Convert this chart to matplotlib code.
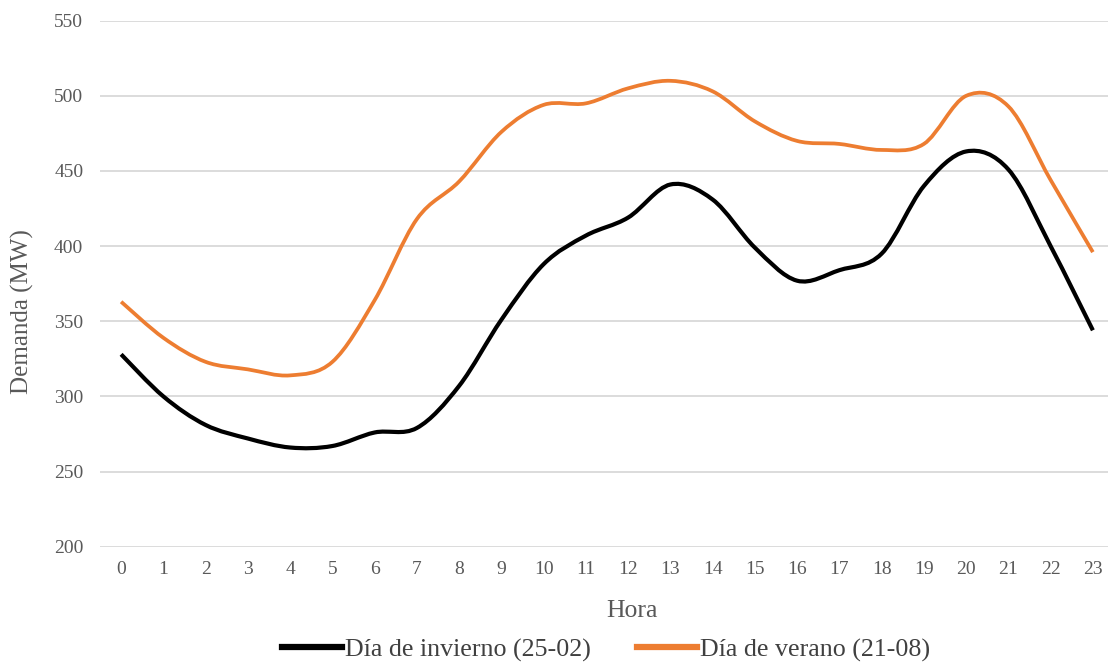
import numpy as np
import matplotlib.pyplot as plt
from matplotlib.path import Path
from matplotlib.patches import PathPatch
from matplotlib.lines import Line2D

# demanda horaria (MW)
horas = list(range(24))
invierno = [328, 300, 281, 272, 266, 267, 276, 279, 307, 351, 388, 407, 419, 441,
            431, 399, 377, 384, 395, 440, 463, 451, 400, 344]
verano = [363, 339, 323, 318, 314, 323, 364, 418, 443, 476, 494, 495, 505, 510,
          503, 483, 470, 468, 464, 468, 500, 493, 444, 396]

etiqueta_invierno = 'Día de invierno (25-02)'
etiqueta_verano = 'Día de verano (21-08)'

NARANJA = '#ED7D31'
GRIS = '#595959'

plt.rcParams['font.family'] = ['Liberation Serif', 'DejaVu Serif']


def smoothPath(x, y):
    # curva suave tipo Excel: Bezier cubica con tangentes Catmull-Rom (tension 1/6)
    pts = np.column_stack([x, y]).astype(float)
    ext = np.vstack([pts[0], pts, pts[-1]])
    verts = [pts[0]]
    codes = [Path.MOVETO]
    for i in range(1, len(ext) - 2):
        p0, p1, p2, p3 = ext[i - 1], ext[i], ext[i + 1], ext[i + 2]
        c1 = p1 + (p2 - p0) / 6.0
        c2 = p2 - (p3 - p1) / 6.0
        verts += [c1, c2, p2]
        codes += [Path.CURVE4] * 3
    return Path(verts, codes)


fig = plt.figure(figsize=(11.08, 6.63), dpi=100)
ax = fig.add_axes([100 / 1108, 1 - 546.7 / 663, 1014 / 1108, 526 / 663])

ax.add_patch(PathPatch(smoothPath(horas, invierno), fill=False, edgecolor='black',
                       lw=3.0, capstyle='butt', zorder=3))
ax.add_patch(PathPatch(smoothPath(horas, verano), fill=False, edgecolor=NARANJA,
                       lw=2.7, capstyle='butt', zorder=3))

ax.set_xlim(-0.5, 23.5)
ax.set_ylim(200, 550)
ax.set_yticks(range(200, 551, 50))
ax.set_xticks(horas)
ax.set_xticklabels([str(h) for h in horas])
ax.grid(axis='y', color='#D9D9D9', lw=1.3)
ax.set_axisbelow(True)
for s in ax.spines.values():
    s.set_visible(False)
ax.tick_params(axis='both', length=0, labelsize=14, labelcolor=GRIS)
ax.tick_params(axis='y', pad=12)
ax.tick_params(axis='x', pad=10)

fig.text(632 / 1108, 1 - 611 / 663, 'Hora', ha='center', va='center',
         fontsize=18.5, color=GRIS)
fig.text(22 / 1108, 1 - 312 / 663, 'Demanda (MW)', ha='center', va='center',
         rotation=90, fontsize=18, color=GRIS)

handles = [Line2D([], [], color='black', lw=4.5),
           Line2D([], [], color=NARANJA, lw=4.5)]
fig.legend(handles, [etiqueta_invierno, etiqueta_verano], loc='center',
           bbox_to_anchor=(606 / 1108, 1 - 650 / 663), ncol=2, frameon=False,
           fontsize=18.7, handlelength=2.3, handletextpad=0.1, columnspacing=1.8,
           labelcolor='#404040')

fig.savefig('out.png', dpi=100)
